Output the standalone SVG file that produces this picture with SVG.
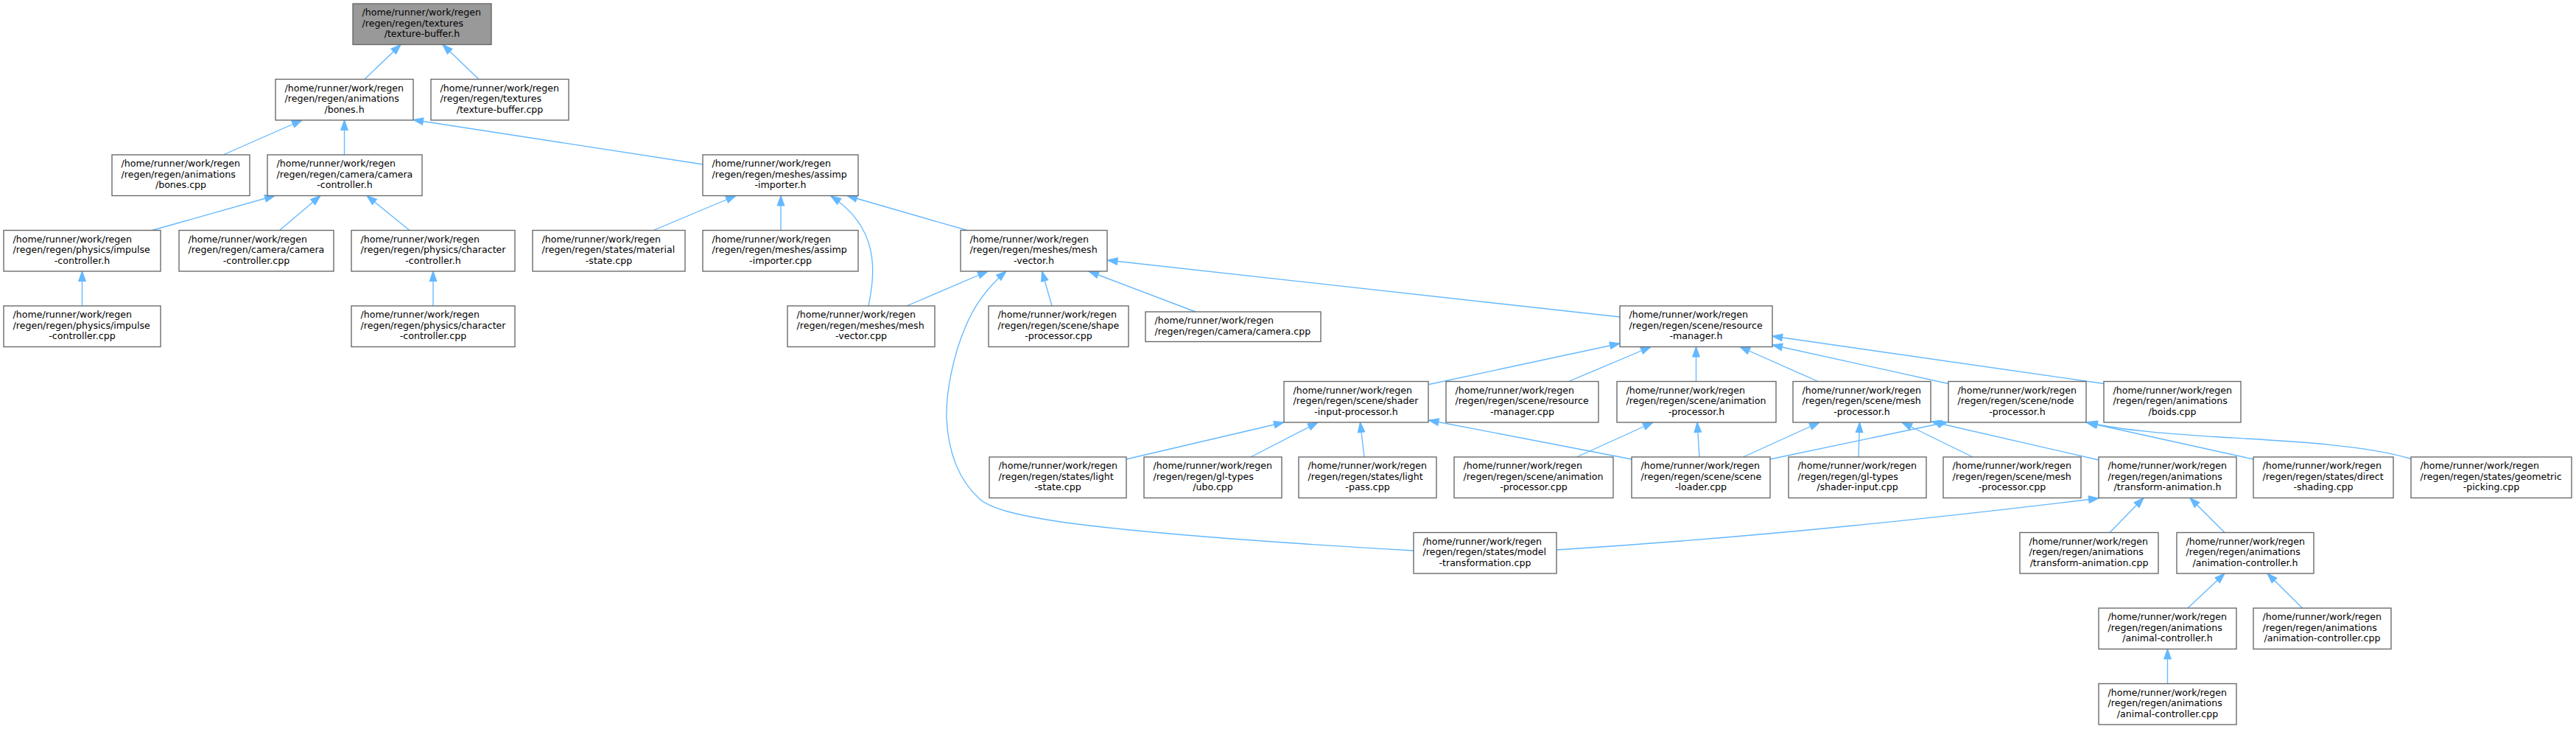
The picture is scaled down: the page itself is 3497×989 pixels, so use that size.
<svg xmlns="http://www.w3.org/2000/svg" width="3497" height="989" viewBox="0 0 3497 989">
<style>
.n rect{fill:#ffffff;stroke:#666666;stroke-width:1.34}
.root rect{fill:#999999}
text{font-family:"DejaVu Sans",sans-serif;font-size:12.6px;fill:#000000}
.m{text-anchor:middle}
#edges path{fill:none;stroke:#63b8ff;stroke-width:1.34;marker-end:url(#ah)}
</style>
<defs>
<marker id="ah" markerUnits="userSpaceOnUse" markerWidth="16" markerHeight="12" refX="13.4" refY="4.7" orient="auto" overflow="visible">
<path d="M0,0 L13.4,4.7 L0,9.4 z" fill="#63b8ff" stroke="#63b8ff" stroke-width="1.2"/>
</marker>
</defs>
<rect width="3497" height="989" fill="#ffffff"/>
<g id="edges">
<path d="M495,107.5 L544,60.5"/>
<path d="M650,107.5 L601,60.5"/>
<path d="M303,210 L410,163"/>
<path d="M467.5,210 L467.5,163"/>
<path d="M954,223 L561,162.5"/>
<path d="M206.5,312.5 L373,265.5"/>
<path d="M379.5,312.5 L435,265.5"/>
<path d="M556,312.5 L498,265.5"/>
<path d="M111.5,415 L111.5,368"/>
<path d="M588,415 L588,368"/>
<path d="M887,312.5 L999,265.5"/>
<path d="M1060,312.5 L1060,265.5"/>
<path d="M1179,415 C1188,370 1195,310 1128,266"/>
<path d="M1313,312.5 L1150,265.5"/>
<path d="M1231,415 L1341,368"/>
<path d="M1919,747 C1780,739 1560,725 1440,708 C1380,699 1345,690 1330,677 C1300,650 1287,610 1285,567 C1284,530 1295,480 1310,445 C1322,415 1340,390 1366,368"/>
<path d="M1428,415 L1414.5,368"/>
<path d="M1623,423 L1478,368"/>
<path d="M2199,430 L1503.5,353"/>
<path d="M1940,521.5 L2199,466"/>
<path d="M2129.5,517.5 L2241,470.5"/>
<path d="M2302.5,517.5 L2302.5,470.5"/>
<path d="M2468,517.5 L2362,470.5"/>
<path d="M2645,520.5 L2406,468"/>
<path d="M2856,520.5 L2406,456"/>
<path d="M1529,623 L1743,573"/>
<path d="M1698,620 L1789,573"/>
<path d="M1852,620 L1846.5,573"/>
<path d="M2215,623 L1939.5,570"/>
<path d="M2140.5,620 L2244,573"/>
<path d="M2307,620 L2304,573"/>
<path d="M2366.5,620 L2470,573"/>
<path d="M2523,620 L2524.5,573"/>
<path d="M2678,620 L2582,573"/>
<path d="M2849,624 L2622,572"/>
<path d="M2403,623 L2644,572.5"/>
<path d="M3059,623 L2832,573"/>
<path d="M3273,622.5 C3210,603 3100,598 3014,593 C2950,589 2880,584 2834,573"/>
<path d="M2113,746 C2400,728 2650,700 2849,676"/>
<path d="M2864,722.5 L2910,675.5"/>
<path d="M3020,722.5 L2973,675.5"/>
<path d="M2970,825 L3020,778"/>
<path d="M3125.5,825 L3078,778"/>
<path d="M2942.5,927.5 L2942.5,880.5"/>
</g>
<g id="n1" class="n root"><rect x="479" y="5" width="188" height="55.5"/><text x="491.5" y="21">/home/runner/work/regen</text><text x="491.5" y="35.7">/regen/regen/textures</text><text class="m" x="573" y="50.4">/texture-buffer.h</text></g>
<g id="n2" class="n"><rect x="374" y="107.5" width="187" height="55.5"/><text x="386.5" y="123.5">/home/runner/work/regen</text><text x="386.5" y="138.2">/regen/regen/animations</text><text class="m" x="467.5" y="152.9">/bones.h</text></g>
<g id="n3" class="n"><rect x="585" y="107.5" width="187" height="55.5"/><text x="597.5" y="123.5">/home/runner/work/regen</text><text x="597.5" y="138.2">/regen/regen/textures</text><text class="m" x="678.5" y="152.9">/texture-buffer.cpp</text></g>
<g id="n4" class="n"><rect x="152" y="210" width="187" height="55.5"/><text x="164.5" y="226">/home/runner/work/regen</text><text x="164.5" y="240.7">/regen/regen/animations</text><text class="m" x="245.5" y="255.4">/bones.cpp</text></g>
<g id="n5" class="n"><rect x="363" y="210" width="210" height="55.5"/><text x="375.5" y="226">/home/runner/work/regen</text><text x="375.5" y="240.7">/regen/regen/camera/camera</text><text class="m" x="468" y="255.4">-controller.h</text></g>
<g id="n6" class="n"><rect x="954" y="210" width="211" height="55.5"/><text x="966.5" y="226">/home/runner/work/regen</text><text x="966.5" y="240.7">/regen/regen/meshes/assimp</text><text class="m" x="1059.5" y="255.4">-importer.h</text></g>
<g id="n7" class="n"><rect x="5" y="312.5" width="213" height="55.5"/><text x="17.5" y="328.5">/home/runner/work/regen</text><text x="17.5" y="343.2">/regen/regen/physics/impulse</text><text class="m" x="111.5" y="357.9">-controller.h</text></g>
<g id="n8" class="n"><rect x="243" y="312.5" width="210" height="55.5"/><text x="255.5" y="328.5">/home/runner/work/regen</text><text x="255.5" y="343.2">/regen/regen/camera/camera</text><text class="m" x="348" y="357.9">-controller.cpp</text></g>
<g id="n9" class="n"><rect x="477" y="312.5" width="222" height="55.5"/><text x="489.5" y="328.5">/home/runner/work/regen</text><text x="489.5" y="343.2">/regen/regen/physics/character</text><text class="m" x="588" y="357.9">-controller.h</text></g>
<g id="n10" class="n"><rect x="723" y="312.5" width="207" height="55.5"/><text x="735.5" y="328.5">/home/runner/work/regen</text><text x="735.5" y="343.2">/regen/regen/states/material</text><text class="m" x="826.5" y="357.9">-state.cpp</text></g>
<g id="n11" class="n"><rect x="954" y="312.5" width="211" height="55.5"/><text x="966.5" y="328.5">/home/runner/work/regen</text><text x="966.5" y="343.2">/regen/regen/meshes/assimp</text><text class="m" x="1059.5" y="357.9">-importer.cpp</text></g>
<g id="n12" class="n"><rect x="1304" y="312.5" width="199" height="55.5"/><text x="1316.5" y="328.5">/home/runner/work/regen</text><text x="1316.5" y="343.2">/regen/regen/meshes/mesh</text><text class="m" x="1403.5" y="357.9">-vector.h</text></g>
<g id="n13" class="n"><rect x="5" y="415" width="213" height="55.5"/><text x="17.5" y="431">/home/runner/work/regen</text><text x="17.5" y="445.7">/regen/regen/physics/impulse</text><text class="m" x="111.5" y="460.4">-controller.cpp</text></g>
<g id="n14" class="n"><rect x="477" y="415" width="222" height="55.5"/><text x="489.5" y="431">/home/runner/work/regen</text><text x="489.5" y="445.7">/regen/regen/physics/character</text><text class="m" x="588" y="460.4">-controller.cpp</text></g>
<g id="n15" class="n"><rect x="1069" y="415" width="200" height="55.5"/><text x="1081.5" y="431">/home/runner/work/regen</text><text x="1081.5" y="445.7">/regen/regen/meshes/mesh</text><text class="m" x="1169" y="460.4">-vector.cpp</text></g>
<g id="n16" class="n"><rect x="1342" y="415" width="190" height="55.5"/><text x="1354.5" y="431">/home/runner/work/regen</text><text x="1354.5" y="445.7">/regen/regen/scene/shape</text><text class="m" x="1437" y="460.4">-processor.cpp</text></g>
<g id="n17" class="n"><rect x="1555" y="423" width="238" height="40.5"/><text x="1567.5" y="439">/home/runner/work/regen</text><text x="1567.5" y="453.7">/regen/regen/camera/camera.cpp</text></g>
<g id="n18" class="n"><rect x="2199" y="415" width="207" height="55.5"/><text x="2211.5" y="431">/home/runner/work/regen</text><text x="2211.5" y="445.7">/regen/regen/scene/resource</text><text class="m" x="2302.5" y="460.4">-manager.h</text></g>
<g id="n19" class="n"><rect x="1743" y="517.5" width="196" height="55.5"/><text x="1755.5" y="533.5">/home/runner/work/regen</text><text x="1755.5" y="548.2">/regen/regen/scene/shader</text><text class="m" x="1841" y="562.9">-input-processor.h</text></g>
<g id="n20" class="n"><rect x="1963" y="517.5" width="207" height="55.5"/><text x="1975.5" y="533.5">/home/runner/work/regen</text><text x="1975.5" y="548.2">/regen/regen/scene/resource</text><text class="m" x="2066.5" y="562.9">-manager.cpp</text></g>
<g id="n21" class="n"><rect x="2195" y="517.5" width="216" height="55.5"/><text x="2207.5" y="533.5">/home/runner/work/regen</text><text x="2207.5" y="548.2">/regen/regen/scene/animation</text><text class="m" x="2303" y="562.9">-processor.h</text></g>
<g id="n22" class="n"><rect x="2434" y="517.5" width="187" height="55.5"/><text x="2446.5" y="533.5">/home/runner/work/regen</text><text x="2446.5" y="548.2">/regen/regen/scene/mesh</text><text class="m" x="2527.5" y="562.9">-processor.h</text></g>
<g id="n23" class="n"><rect x="2645" y="517.5" width="187" height="55.5"/><text x="2657.5" y="533.5">/home/runner/work/regen</text><text x="2657.5" y="548.2">/regen/regen/scene/node</text><text class="m" x="2738.5" y="562.9">-processor.h</text></g>
<g id="n24" class="n"><rect x="2856" y="517.5" width="186" height="55.5"/><text x="2868.5" y="533.5">/home/runner/work/regen</text><text x="2868.5" y="548.2">/regen/regen/animations</text><text class="m" x="2949" y="562.9">/boids.cpp</text></g>
<g id="n25" class="n"><rect x="1343" y="620" width="186" height="55.5"/><text x="1355.5" y="636">/home/runner/work/regen</text><text x="1355.5" y="650.7">/regen/regen/states/light</text><text class="m" x="1436" y="665.4">-state.cpp</text></g>
<g id="n26" class="n"><rect x="1553" y="620" width="187" height="55.5"/><text x="1565.5" y="636">/home/runner/work/regen</text><text x="1565.5" y="650.7">/regen/regen/gl-types</text><text class="m" x="1646.5" y="665.4">/ubo.cpp</text></g>
<g id="n27" class="n"><rect x="1763" y="620" width="187" height="55.5"/><text x="1775.5" y="636">/home/runner/work/regen</text><text x="1775.5" y="650.7">/regen/regen/states/light</text><text class="m" x="1856.5" y="665.4">-pass.cpp</text></g>
<g id="n28" class="n"><rect x="1974" y="620" width="216" height="55.5"/><text x="1986.5" y="636">/home/runner/work/regen</text><text x="1986.5" y="650.7">/regen/regen/scene/animation</text><text class="m" x="2082" y="665.4">-processor.cpp</text></g>
<g id="n29" class="n"><rect x="2215" y="620" width="188" height="55.5"/><text x="2227.5" y="636">/home/runner/work/regen</text><text x="2227.5" y="650.7">/regen/regen/scene/scene</text><text class="m" x="2309" y="665.4">-loader.cpp</text></g>
<g id="n30" class="n"><rect x="2428" y="620" width="187" height="55.5"/><text x="2440.5" y="636">/home/runner/work/regen</text><text x="2440.5" y="650.7">/regen/regen/gl-types</text><text class="m" x="2521.5" y="665.4">/shader-input.cpp</text></g>
<g id="n31" class="n"><rect x="2638" y="620" width="187" height="55.5"/><text x="2650.5" y="636">/home/runner/work/regen</text><text x="2650.5" y="650.7">/regen/regen/scene/mesh</text><text class="m" x="2731.5" y="665.4">-processor.cpp</text></g>
<g id="n32" class="n"><rect x="2849" y="620" width="187" height="55.5"/><text x="2861.5" y="636">/home/runner/work/regen</text><text x="2861.5" y="650.7">/regen/regen/animations</text><text class="m" x="2942.5" y="665.4">/transform-animation.h</text></g>
<g id="n33" class="n"><rect x="3059" y="620" width="190" height="55.5"/><text x="3071.5" y="636">/home/runner/work/regen</text><text x="3071.5" y="650.7">/regen/regen/states/direct</text><text class="m" x="3154" y="665.4">-shading.cpp</text></g>
<g id="n34" class="n"><rect x="3273" y="620" width="218" height="55.5"/><text x="3285.5" y="636">/home/runner/work/regen</text><text x="3285.5" y="650.7">/regen/regen/states/geometric</text><text class="m" x="3382" y="665.4">-picking.cpp</text></g>
<g id="n35" class="n"><rect x="1919" y="722.5" width="194" height="55.5"/><text x="1931.5" y="738.5">/home/runner/work/regen</text><text x="1931.5" y="753.2">/regen/regen/states/model</text><text class="m" x="2016" y="767.9">-transformation.cpp</text></g>
<g id="n36" class="n"><rect x="2742" y="722.5" width="188" height="55.5"/><text x="2754.5" y="738.5">/home/runner/work/regen</text><text x="2754.5" y="753.2">/regen/regen/animations</text><text class="m" x="2836" y="767.9">/transform-animation.cpp</text></g>
<g id="n37" class="n"><rect x="2955" y="722.5" width="186" height="55.5"/><text x="2967.5" y="738.5">/home/runner/work/regen</text><text x="2967.5" y="753.2">/regen/regen/animations</text><text class="m" x="3048" y="767.9">/animation-controller.h</text></g>
<g id="n38" class="n"><rect x="2849" y="825" width="187" height="55.5"/><text x="2861.5" y="841">/home/runner/work/regen</text><text x="2861.5" y="855.7">/regen/regen/animations</text><text class="m" x="2942.5" y="870.4">/animal-controller.h</text></g>
<g id="n39" class="n"><rect x="3059" y="825" width="187" height="55.5"/><text x="3071.5" y="841">/home/runner/work/regen</text><text x="3071.5" y="855.7">/regen/regen/animations</text><text class="m" x="3152.5" y="870.4">/animation-controller.cpp</text></g>
<g id="n40" class="n"><rect x="2849" y="927.5" width="187" height="55.5"/><text x="2861.5" y="943.5">/home/runner/work/regen</text><text x="2861.5" y="958.2">/regen/regen/animations</text><text class="m" x="2942.5" y="972.9">/animal-controller.cpp</text></g>
</svg>
